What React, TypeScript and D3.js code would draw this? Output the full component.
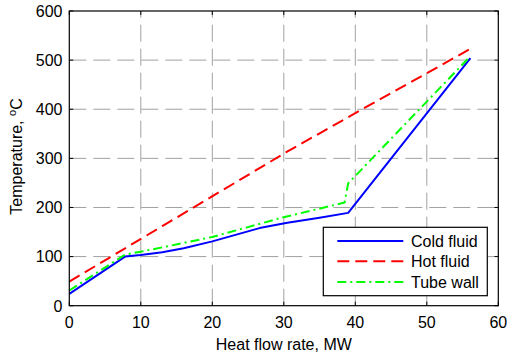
import React from "react";
import * as d3 from "d3";

const xTicks = [0, 10, 20, 30, 40, 50, 60];
const yTicks = [0, 100, 200, 300, 400, 500, 600];

const coldX = [0, 7.8, 10, 13, 16, 20, 26.6, 30.5, 35, 39, 56.1];
const coldY = [24, 100, 103, 109, 117, 131, 158, 169, 179, 189, 504];

const hotX = [0, 13, 30.4, 40.6, 56.1];
const hotY = [49, 162, 313, 397, 523];

const wallX = [0, 7.8, 10, 13.4, 20, 25, 29.4, 38.5, 39, 56.1];
const wallY = [31, 104, 110, 120, 140, 160, 178, 210, 249, 508];

const seriesNames = ["Cold fluid", "Hot fluid", "Tube wall"];

const W = 507;
const H = 356;
const M = { left: 69.3, right: 498.3, top: 11, bottom: 305.7 };

export default function App() {
  const x = d3.scaleLinear().domain([0, 60]).range([M.left, M.right]);
  const y = d3.scaleLinear().domain([0, 600]).range([M.bottom, M.top]);
  const line = d3
    .line<[number, number]>()
    .x((d) => x(d[0]))
    .y((d) => y(d[1]));
  const zip = (a: number[], b: number[]) => a.map((v, i) => [v, b[i]] as [number, number]);

  const series = [
    { name: seriesNames[0], d: zip(coldX, coldY), color: "#0000ff", dash: "none" },
    { name: seriesNames[1], d: zip(hotX, hotY), color: "#ff0000", dash: "12,6" },
    { name: seriesNames[2], d: zip(wallX, wallY), color: "#00ff00", dash: "9,4,2,4" },
  ];

  const font = "Liberation Sans, Arial, Helvetica, sans-serif";
  const fs = 16;
  const lg = { x0: 323.3, y0: 227.3, x1: 487.3, y1: 295.7 };
  const rowsY = [241, 261.3, 282];

  return (
    <svg
      width={W}
      height={H}
      style={{ position: "absolute", left: 0, top: 0, background: "#fff" }}
      fontFamily={font}
    >
      <rect x={0} y={0} width={W} height={H} fill="#fff" />
      {/* grid */}
      {xTicks.slice(1, -1).map((t) => (
        <line
          key={"gx" + t}
          x1={x(t)}
          x2={x(t)}
          y1={M.bottom}
          y2={M.top}
          stroke="#a0a0a0"
          strokeWidth={1}
          strokeDasharray="17,7"
        />
      ))}
      {yTicks.slice(1, -1).map((t) => (
        <line
          key={"gy" + t}
          x1={M.left}
          x2={M.right}
          y1={y(t)}
          y2={y(t)}
          stroke="#a0a0a0"
          strokeWidth={1}
          strokeDasharray="17,7"
        />
      ))}
      {/* ticks inside */}
      {xTicks.map((t) => (
        <g key={"tx" + t}>
          <line x1={x(t)} x2={x(t)} y1={M.bottom} y2={M.bottom - 4} stroke="#000" />
          <line x1={x(t)} x2={x(t)} y1={M.top} y2={M.top + 4} stroke="#000" />
          <text x={x(t)} y={328} fontSize={fs} textAnchor="middle" fill="#000">
            {t}
          </text>
        </g>
      ))}
      {yTicks.map((t) => (
        <g key={"ty" + t}>
          <line x1={M.left} x2={M.left + 4} y1={y(t)} y2={y(t)} stroke="#000" />
          <line x1={M.right} x2={M.right - 4} y1={y(t)} y2={y(t)} stroke="#000" />
          <text x={62.5} y={y(t) + 5.8} fontSize={fs} textAnchor="end" fill="#000">
            {t}
          </text>
        </g>
      ))}
      {/* series */}
      {series.map((s) => (
        <path
          key={s.name}
          d={line(s.d) || ""}
          fill="none"
          stroke={s.color}
          strokeWidth={2}
          strokeDasharray={s.dash}
          strokeLinejoin="round"
        />
      ))}
      {/* axes box */}
      <rect
        x={M.left}
        y={M.top}
        width={M.right - M.left}
        height={M.bottom - M.top}
        fill="none"
        stroke="#000"
        strokeWidth={1.2}
      />
      {/* legend */}
      <rect
        x={lg.x0}
        y={lg.y0}
        width={lg.x1 - lg.x0}
        height={lg.y1 - lg.y0}
        fill="#fff"
        stroke="#000"
        strokeWidth={1.2}
      />
      {series.map((s, i) => (
        <g key={"lg" + s.name}>
          <line
            x1={337.3}
            x2={403.3}
            y1={rowsY[i]}
            y2={rowsY[i]}
            stroke={s.color}
            strokeWidth={2}
            strokeDasharray={s.dash}
          />
          <text x={411} y={rowsY[i] + 5.8} fontSize={fs} fill="#000">
            {s.name}
          </text>
        </g>
      ))}
      {/* axis labels */}
      <text x={(M.left + M.right) / 2} y={349.5} fontSize={fs} textAnchor="middle" fill="#000">
        Heat flow rate, MW
      </text>
      <text
        transform={`translate(21.5,156.5) rotate(-90)`}
        fontSize={fs}
        textAnchor="middle"
        fill="#000"
      >
        Temperature, <tspan dy={-5.5} fontSize={11}>o</tspan>
        <tspan dy={5.5}>C</tspan>
      </text>
    </svg>
  );
}
